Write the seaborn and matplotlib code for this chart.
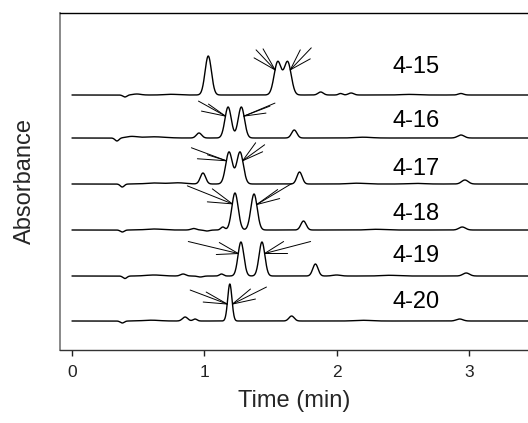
import numpy as np
import pandas as pd
import matplotlib
matplotlib.use("Agg")
import matplotlib.pyplot as plt
import seaborn as sns

# sample names, one chromatogram each (top to bottom)
samples = ["4-15", "4-16", "4-17", "4-18", "4-19", "4-20"]
# vertical stacking of the traces (absorbance offset, arbitrary units)
offsets = [255, 212, 166, 120, 74, 29]

# peak tables: retention time (min), height, width (sigma, min)
peak_times = [
    [0.40, 0.49, 0.75, 1.03, 1.555, 1.63, 1.88, 2.03, 2.11, 2.55, 2.94],
    [0.34, 0.45, 0.62, 0.96, 1.18, 1.28, 1.68, 2.2, 2.94],
    [0.38, 0.62, 0.80, 0.99, 1.187, 1.27, 1.72, 2.15, 2.6, 2.97],
    [0.38, 0.62, 0.92, 1.02, 1.14, 1.232, 1.376, 1.75, 2.3, 2.95],
    [0.40, 0.62, 0.84, 0.97, 1.13, 1.277, 1.436, 1.84, 2.00, 2.4, 2.98],
    [0.38, 0.6, 0.855, 0.93, 1.193, 1.66, 2.2, 2.93],
]
peak_heights = [
    [-2, 1, 0.7, 39, 33, 33, 3, 1.5, 2, 0.6, 1.5],
    [-3, 1.5, 1.2, 5, 31, 31, 8, 0.8, 3],
    [-3, 1.0, 1.2, 11, 32, 32, 12, 0.8, 0.6, 4],
    [-2, 1.0, 1.5, -1, 3, 37, 36, 9, 0.7, 3],
    [-2.5, 1.0, 2, -1, 2, 34, 34, 12, 1, 0.7, 3],
    [-2, 0.8, 4, 2, 37, 5, 0.7, 2],
]
peak_widths = [
    [0.015, 0.03, 0.05, 0.024, 0.027, 0.027, 0.02, 0.015, 0.02, 0.06, 0.02],
    [0.015, 0.04, 0.08, 0.02, 0.024, 0.024, 0.02, 0.06, 0.025],
    [0.015, 0.06, 0.06, 0.02, 0.025, 0.025, 0.02, 0.06, 0.06, 0.025],
    [0.015, 0.06, 0.02, 0.02, 0.015, 0.024, 0.024, 0.02, 0.06, 0.025],
    [0.015, 0.06, 0.02, 0.02, 0.015, 0.022, 0.022, 0.02, 0.03, 0.06, 0.025],
    [0.015, 0.06, 0.02, 0.015, 0.016, 0.02, 0.06, 0.025],
]
# peaks pointed at by the arrow fans (left fan, right fan)
marked = [
    (1.555, 1.63),
    (1.18, 1.28),
    (1.187, 1.27),
    (1.232, 1.376),
    (1.277, 1.436),
    (1.193, 1.193),
]

# fan line tails, pixel offsets from the tip
left_fans = [
    [(-21, 12), (-12, 21), (-19, 20)],
    [(-27, 15), (-17, 12), (-24, 5)],
    [(-35, 13), (-19, 6), (-29, 2)],
    [(-45, 18), (-20, 15), (-25, 2)],
    [(-50, 12), (-19, 11), (-22, -1)],
    [(-37, 14), (-21, 12), (-24, 2)],
]
right_fans = [
    [(21, 22), (20, 11), (10, 20)],
    [(31, 13), (26, 10), (22, 3)],
    [(22, 16), (20, 9), (13, 18)],
    [(35, 21), (21, 15), (23, 6)],
    [(46, 12), (19, 12), (23, 0)],
    [(34, 17), (18, 15), (23, 5)],
]
label_lift = [28, 17, 15, 16, 20, 19]

t = np.linspace(0, 3.5, 1751)
rows = []
curves = []
for name, off, pt, ph, pw in zip(samples, offsets, peak_times, peak_heights, peak_widths):
    y = np.full_like(t, float(off))
    for c, h, w in zip(pt, ph, pw):
        y += h * np.exp(-0.5 * ((t - c) / w) ** 2)
    curves.append(y)
    rows.append(pd.DataFrame({"time": t, "signal": y, "sample": name}))
df = pd.concat(rows, ignore_index=True)

sns.set_style("white")
plt.rcParams["font.family"] = ["Liberation Sans", "DejaVu Sans"]

fig = plt.figure(figsize=(5.28, 4.23), dpi=100)
ax = fig.add_axes([60 / 528, 73 / 423, 468 / 528, 337 / 423])

sns.lineplot(data=df, x="time", y="signal", units="sample", estimator=None,
             color="black", lw=1.0, ax=ax, legend=False)

for i, name in enumerate(samples):
    y = curves[i]
    lp, rp = marked[i]
    tl, tr = lp - 0.02, rp + 0.02
    tip_l = (tl, np.interp(tl, t, y))
    tip_r = (tr, np.interp(tr, t, y))
    for tip, fan in ((tip_l, left_fans[i]), (tip_r, right_fans[i])):
        for dx, dy in fan:
            ax.annotate("", xy=tip, xytext=(dx, dy), textcoords="offset pixels",
                        arrowprops=dict(arrowstyle="-", lw=0.7, color="black",
                                        shrinkA=0, shrinkB=0))
    ax.text(2.6, offsets[i] + label_lift[i], name, ha="center", va="center",
            fontsize=17, color="black")

ax.set_xlim(-0.0907, 3.447)
ax.set_ylim(0, 337)
ax.set_xticks([0, 1, 2, 3])
ax.set_yticks([])
ax.tick_params(axis="x", direction="out", length=4, width=1, pad=7,
               labelsize=12.5, colors="#222222", bottom=True)
ax.set_xlabel("Time (min)", fontsize=17, labelpad=7)
ax.set_ylabel("Absorbance", fontsize=17, labelpad=17)

ax.spines["right"].set_visible(False)
ax.spines["top"].set_color("black")
ax.spines["top"].set_linewidth(1.0)
ax.spines["left"].set_color("#808080")
ax.spines["left"].set_linewidth(1.3)
ax.spines["bottom"].set_color("#333333")
ax.spines["bottom"].set_linewidth(1.0)

fig.savefig("out.png", dpi=100)
